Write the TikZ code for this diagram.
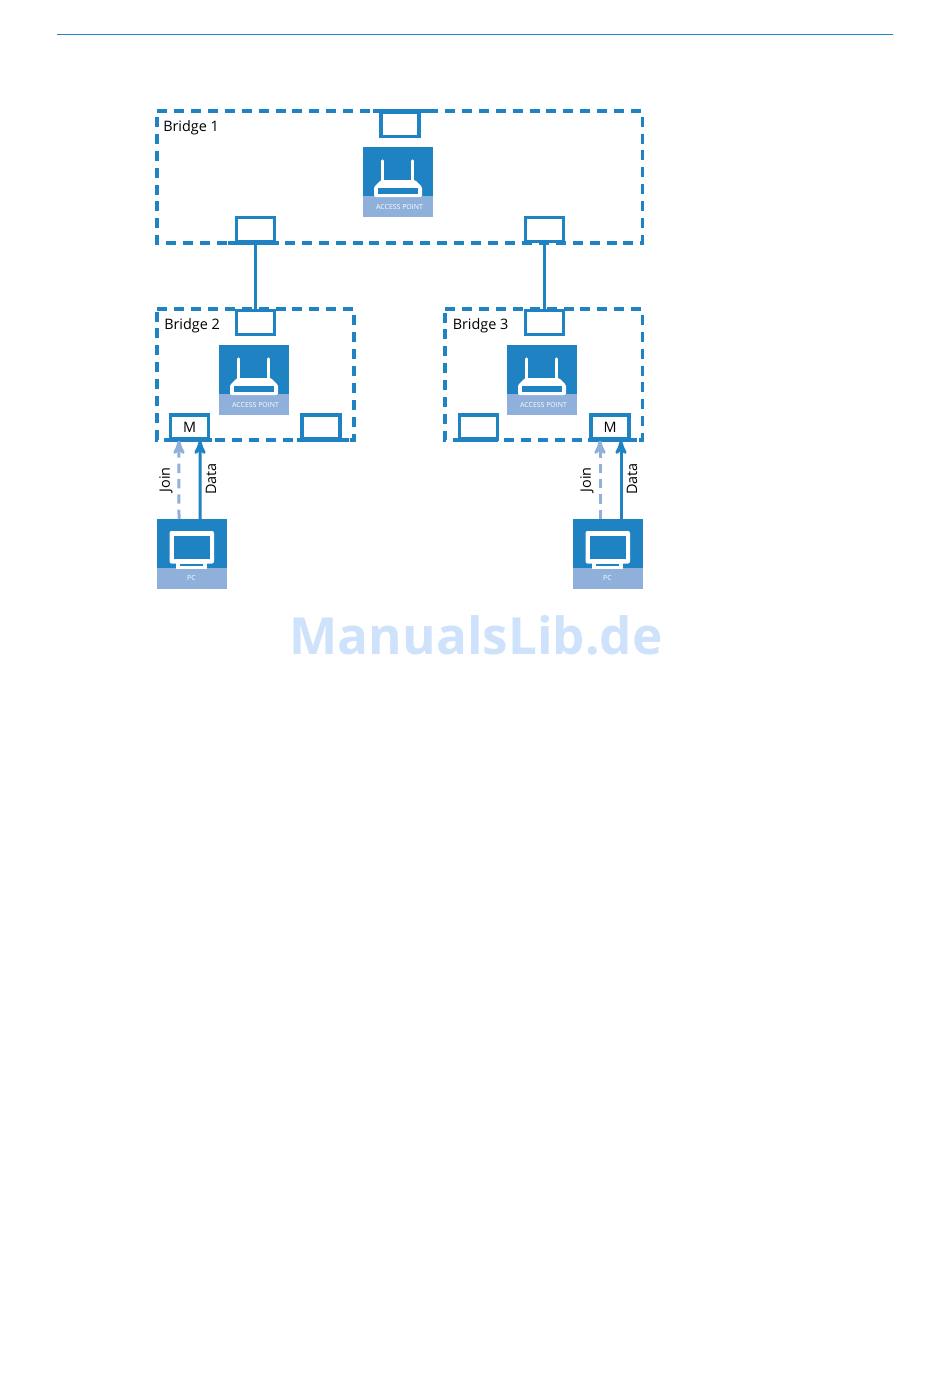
\documentclass[tikz,border=0pt]{standalone}
\usepackage{fontspec}
\setmainfont{Open Sans}
\usepackage{xcolor}
\usetikzlibrary{arrows}
\definecolor{lanblue}{HTML}{1F82C2}
\definecolor{lanlight}{HTML}{8FB0DB}
\definecolor{markblue}{HTML}{CFE2FB}
\tikzset{
 iconbox/.style={fill=lanblue, minimum size=52.5pt, inner sep=0, outer sep=0},
 icontext/.style={white, font=\fontsize{5.2}{6}\selectfont, inner sep=0},
 portbox/.style={draw=lanblue, line width=2.5pt, fill=white, minimum width=28.5pt, minimum height=18pt, inner sep=0, font=\fontsize{10.8}{13}\selectfont},
 bridgeframe/.style={draw=lanblue, line width=2.4pt, dash pattern=on 7.5pt off 5.2pt},
 bridgelabel/.style={anchor=west, inner sep=0, font=\fontsize{10.8}{13}\selectfont},
 flowlabel/.style={rotate=90, inner sep=0, font=\fontsize{10.8}{13}\selectfont},
 dataline/.style={draw=lanblue, line width=2.25pt, ->, >=stealth'},
 joinline/.style={draw=lanlight, line width=2.25pt, dash pattern=on 7pt off 4.5pt, ->, >=stealth'},
 apicon/.pic={
  \node[iconbox] (-box) at (35,35) {};
  \fill[lanlight] (0,49) rectangle (70,70);
  \draw[white, line width=2.4pt, line cap=round] (19.5,14)--(19.5,34) (49.5,14)--(49.5,34);
  \fill[white, rounded corners=1pt] (18,33)--(52,33)--(59,40)--(59,50)--(11,50)--(11,40)--cycle;
  \fill[lanblue] (15,41) rectangle (55,47);
  \node[icontext] (-label) at (36.5,60) {ACCESS POINT};
 },
 pcicon/.pic={
  \node[iconbox] (-box) at (35,35) {};
  \fill[lanlight] (0,49) rectangle (70,70);
  \fill[white, rounded corners=1.5pt] (12.5,12) rectangle (57,44.5);
  \fill[lanblue] (16.5,16.5) rectangle (53,40);
  \fill[white] (19,44) rectangle (50,50);
  \fill[lanblue] (23,44.5) rectangle (46,47);
  \node[icontext] (-label) at (34.5,59.5) {PC};
 }
}
\begin{document}
\begin{tikzpicture}[x=.75pt,y=-.75pt]
\useasboundingbox[fill=white] (0,0) rectangle (950,1378);
\fill[lanblue] (57,34) rectangle (893,35);
% bridge frames
\foreach \xa/\ya/\xb/\yb in {157/111/642.5/243, 157/309/354/440, 445/309/642.5/440} {
 \draw[bridgeframe] (\xa,\ya) -- (\xb,\ya) -- (\xb,\yb) -- (\xa,\yb) -- (\xa,\ya);
}
\node[bridgelabel] (bridgea) at (163,127.5) {Bridge 1};
\node[bridgelabel] (bridgeb) at (164,325.5) {Bridge 2};
\node[bridgelabel] (bridgec) at (452.5,325.5) {Bridge 3};
% ports
\foreach \name/\x/\y/\txt in {pa/400/124.5/{}, pb/255.5/229.5/{}, pc/544.5/229.5/{},
  pd/255.5/322.5/{}, pe/544.5/322.5/{},
  m1/189.5/427/M, pf/321/427/{}, pg/478.5/427/{}, m2/610/427/M} {
 \node[portbox] (\name) at (\x,\y) {\txt};
}
% solid ends beside the ports
\foreach \xa/\ya/\xb in {373/111/429, 228/243/279, 165/440/212, 297/440/349, 454/440/498, 588/440/637} {
 \draw[lanblue, line width=2.4pt] (\xa,\ya) -- (\xb,\ya);
}
% devices
\pic (apa) at (363,147) {apicon};
\pic (apb) at (219,345) {apicon};
\pic (apc) at (507,345) {apicon};
\pic (pca) at (157,519) {pcicon};
\pic (pcb) at (573,519) {pcicon};
% links
\draw[lanblue, line width=2.4pt] (pb) -- (pd);
\draw[lanblue, line width=2.4pt] (pc) -- (pe);
\draw[joinline] ([xshift=-9.75pt]pca-box.north) -- ([xshift=-7.9pt]m1.south);
\draw[dataline] ([xshift=6pt]pca-box.north) -- ([xshift=7.9pt]m1.south);
\draw[joinline] ([xshift=-6pt]pcb-box.north) -- ([xshift=-7.5pt]m2.south);
\draw[dataline] ([xshift=9.75pt]pcb-box.north) -- ([xshift=8.25pt]m2.south);
\node[flowlabel] (joina) at (166,480) {Join};
\node[flowlabel] (dataa) at (211,479) {Data};
\node[flowlabel] (joinb) at (587,480) {Join};
\node[flowlabel] (datab) at (632,479) {Data};
% watermark
\node[markblue, font=\fontsize{38.4}{40}\bfseries\selectfont, inner sep=0] (mark) at (476,635.5) {ManualsLib.de};
\end{tikzpicture}
\end{document}
